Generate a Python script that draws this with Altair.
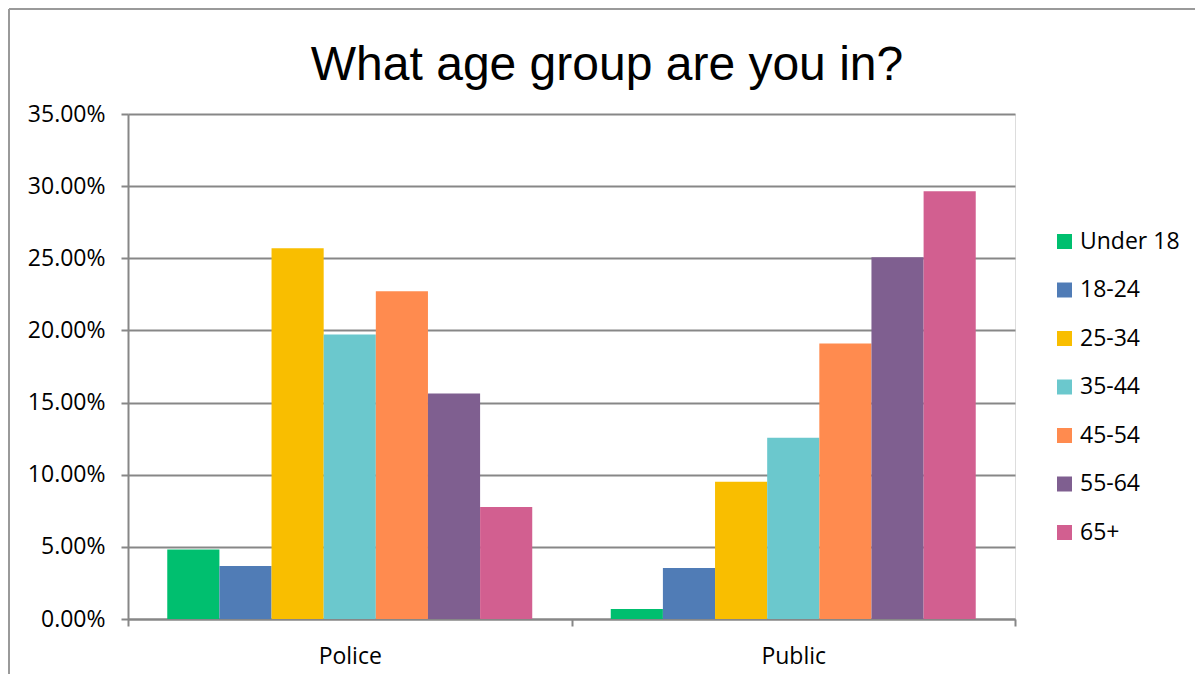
import altair as alt
import pandas as pd

title_text = "What age group are you in?"
groups = ["Police", "Public"]
ages = ["Under 18", "18-24", "25-34", "35-44", "45-54", "55-64", "65+"]
police = [0.0482, 0.0368, 0.2569, 0.1972, 0.2271, 0.1563, 0.0776]
public = [0.0069, 0.0354, 0.0951, 0.1257, 0.1910, 0.2507, 0.2965]
colors = ["#00BF6F", "#507CB6", "#F9BE00", "#6BC8CD", "#FF8B4F", "#7F5F90", "#D25F90"]
y_ticks = [0, 0.05, 0.10, 0.15, 0.20, 0.25, 0.30, 0.35]

rows = []
for g, vals in zip(groups, [police, public]):
    for a, v in zip(ages, vals):
        rows.append({"Group": g, "Age": a, "Value": v})
df = pd.DataFrame(rows)

W, H = 887, 505
PAD = {"left": 120, "top": 106, "right": 180, "bottom": 55}
FONT = "Open Sans"
GRAY = "#878787"

bars = alt.Chart(df).mark_bar().encode(
    x=alt.X("Group:N", sort=groups, title=None,
            scale=alt.Scale(paddingInner=0, paddingOuter=0),
            axis=alt.Axis(labelAngle=0, tickBand="extent", tickSize=7, tickColor=GRAY,
                          tickWidth=2, domainColor=GRAY, domainWidth=2,
                          labelFont=FONT, labelFontSize=23, labelColor="#000000",
                          labelPadding=19, grid=False)),
    xOffset=alt.XOffset("Age:N", sort=ages,
                        scale=alt.Scale(paddingInner=0, paddingOuter=0.753)),
    y=alt.Y("Value:Q", title=None,
            scale=alt.Scale(domain=[0, 0.35], nice=False),
            axis=alt.Axis(values=y_ticks, format=".2%", grid=True, gridColor=GRAY,
                          gridWidth=2, tickSize=7, tickColor=GRAY, tickWidth=2,
                          domainColor=GRAY, domainWidth=2,
                          labelFont=FONT, labelFontSize=23, labelColor="#000000",
                          labelPadding=16)),
    color=alt.Color("Age:N", sort=ages,
                    scale=alt.Scale(domain=ages, range=colors),
                    legend=alt.Legend(title=None, orient="none", legendX=925, legendY=116,
                                      symbolType="square", symbolSize=225,
                                      symbolStrokeWidth=0, labelFont=FONT,
                                      labelFontSize=23, labelColor="#000000",
                                      labelOffset=4, rowPadding=24.5)),
)

one = pd.DataFrame({"k": [0]})
frame_top = alt.Chart(one).mark_rule(color="#9a9a9a", strokeWidth=2).encode(
    x=alt.value(-119), x2=alt.value(W + PAD["right"]), y=alt.value(-105))
frame_left = alt.Chart(one).mark_rule(color="#9a9a9a", strokeWidth=2).encode(
    x=alt.value(-119), y=alt.value(-105), y2=alt.value(H + PAD["bottom"]))

title = alt.Chart(one).mark_text(
    text=title_text, font="Liberation Sans", fontSize=48,
    color="#000000", align="center", baseline="alphabetic",
).encode(x=alt.value(479), y=alt.value(-34))

chart = alt.layer(bars, frame_top, frame_left, title).properties(
    width=W, height=H,
    autosize=alt.AutoSizeParams(type="none"),
    padding=PAD,
).configure_view(stroke=None).configure(background="#ffffff")

chart.save("out.html", embed_options={"renderer": "svg", "actions": False})
